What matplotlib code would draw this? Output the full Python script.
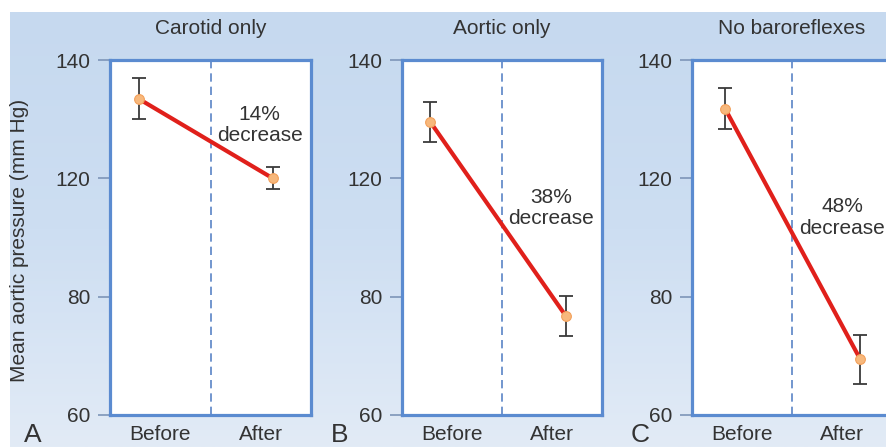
#!/usr/bin/env python3

# Mean aortic pressure before/after occlusion, three denervation conditions

import numpy as np
import matplotlib
matplotlib.use("Agg")
import matplotlib.pyplot as plt
from matplotlib.colors import LinearSegmentedColormap

plt.rcParams["font.family"] = ["Liberation Sans", "DejaVu Sans"]

# --- data -------------------------------------------------------------
conditions = ["Carotid only", "Aortic only", "No baroreflexes"]
panel_letters = ["A", "B", "C"]
phases = ["Before", "After"]

before_mean = [133.4, 129.6, 131.8]
before_low = [130.0, 126.1, 128.3]
before_high = [136.9, 132.9, 135.2]

after_mean = [120.0, 76.7, 69.5]
after_low = [116.4, 73.4, 65.3]
after_high = [121.9, 80.1, 73.6]

decrease_pct = ["14%", "38%", "48%"]

y_ticks = [60, 80, 120, 140]

# --- layout -----------------------------------------------------------
W, H = 887, 447
BLUE = "#5b8bd0"
TEXT = "#333333"
FS = 15

# panel left edges (px) and widths
ax_left = [110, 402, 692]
ax_width = [201, 200, 200]
ax_top, ax_bottom = 60, 415

# where the before/after points sit along x (axes 0..1)
before_x = [0.145, 0.14, 0.165]
after_x = [0.81, 0.82, 0.84]
# where the "% decrease" note sits, (x, pressure)
note_pos = [(0.745, 129.0), (0.745, 110.0), (0.75, 106.8)]
letter_x = [33, 340, 640]

# tick positions are evenly spaced even though the values are not
ref_vals = np.array(y_ticks, dtype=float)
ref_pos = np.arange(len(y_ticks), dtype=float)


def fwd(v):
	return np.interp(v, ref_vals, ref_pos)


def inv(p):
	return np.interp(p, ref_pos, ref_vals)


fig = plt.figure(figsize=(W / 100, H / 100), dpi=100)
fig.patch.set_facecolor("white")

# light blue backdrop fading downwards
bg = fig.add_axes([10 / W, 0, 1 - 10 / W, (H - 12) / H], zorder=-5)
cmap = LinearSegmentedColormap.from_list("bg", ["#c6d9ef", "#cddef2", "#e2ebf6"])
bg.imshow(np.linspace(0, 1, 256).reshape(-1, 1), aspect="auto", cmap=cmap,
          extent=(0, 1, 0, 1))
bg.set_axis_off()

for i, cond in enumerate(conditions):
	ax = fig.add_axes([ax_left[i] / W, (H - ax_bottom) / H,
	                   ax_width[i] / W, (ax_bottom - ax_top) / H])
	ax.set_facecolor("white")
	ax.set_yscale("function", functions=(fwd, inv))
	ax.set_ylim(60, 140)
	ax.set_xlim(0, 1)

	for sp in ax.spines.values():
		sp.set_color(BLUE)
		sp.set_linewidth(2.3)

	ax.set_yticks(y_ticks)
	ax.set_yticklabels([str(v) for v in y_ticks])
	ax.yaxis.set_minor_locator(matplotlib.ticker.NullLocator())
	ax.tick_params(axis="y", direction="out", length=9, width=1.2,
	               color="#7d95b8", labelsize=FS, labelcolor=TEXT, pad=5)
	ax.set_xticks([0.25, 0.75])
	ax.set_xticklabels(phases)
	ax.tick_params(axis="x", length=0, labelsize=FS, labelcolor=TEXT, pad=7)

	ax.axvline(0.5, color="#5a84c6", lw=1.2, dashes=(5, 3))

	xs = [before_x[i], after_x[i]]
	ys = [before_mean[i], after_mean[i]]
	yerr = [[before_mean[i] - before_low[i], after_mean[i] - after_low[i]],
	        [before_high[i] - before_mean[i], after_high[i] - after_mean[i]]]
	ax.errorbar(xs, ys, yerr=yerr, fmt="none", ecolor="#3a3a3a",
	            elinewidth=1.3, capsize=5, capthick=1.3, zorder=3)
	ax.plot(xs, ys, color="#e0201b", lw=3, solid_capstyle="butt", zorder=4)
	ax.plot(xs, ys, ls="none", marker="o", ms=7, mfc="#f7b87c",
	        mec="#f3a05a", mew=0.8, zorder=5)

	nx, ny = note_pos[i]
	ax.text(nx, ny, "%s\ndecrease" % decrease_pct[i], ha="center",
	        va="center", fontsize=FS, color=TEXT, linespacing=1.15)

	ax.set_title(cond, fontsize=FS, color=TEXT, pad=19)

	fig.text(letter_x[i] / W, (H - 435) / H, panel_letters[i], fontsize=19,
	         color=TEXT, ha="center", va="center")

fig.text(20 / W, (H - 240) / H, "Mean aortic pressure (mm Hg)", rotation=90,
         fontsize=FS, color=TEXT, ha="center", va="center")

fig.savefig("out.png", dpi=100)
